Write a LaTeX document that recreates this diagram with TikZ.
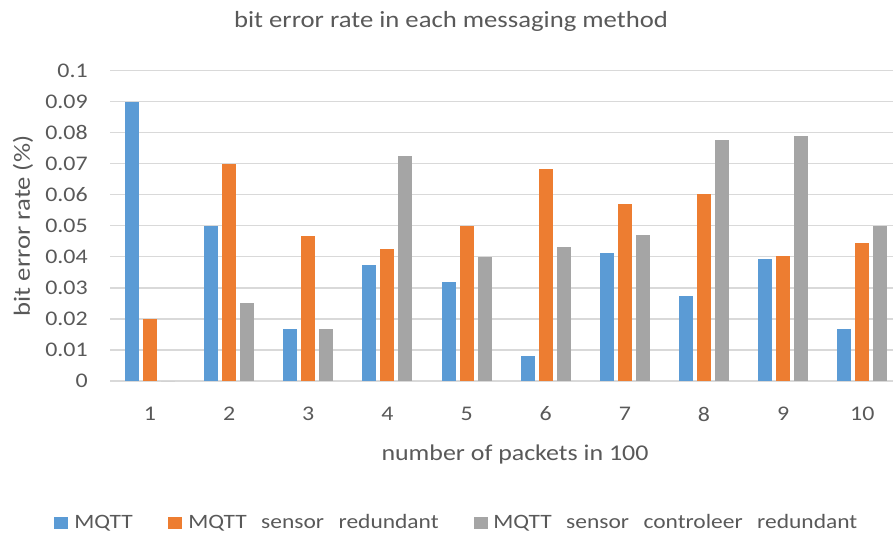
\documentclass[tikz,border=0pt]{standalone}
\usepackage{fontspec}
\setmainfont[FakeStretch=1.15]{Carlito}
\definecolor{serA}{HTML}{5B9BD5}
\definecolor{serB}{HTML}{ED7D31}
\definecolor{serC}{HTML}{A5A5A5}
\definecolor{gridc}{HTML}{D9D9D9}
\definecolor{txtc}{HTML}{595959}
\begin{document}
\begin{tikzpicture}[x=0.75pt,y=-0.75pt,
  lbl/.style={text=txtc,font=\fontsize{15.6}{18}\selectfont,inner sep=0pt},
  ttl/.style={text=txtc,font=\fontsize{17.4}{20}\selectfont,inner sep=0pt},
  keytxt/.style={text=txtc,font=\fontsize{15.3}{18}\selectfont,inner sep=0pt},
  gridline/.style={draw=gridc,line width=1pt},
  keybox/.style={minimum width=10pt,minimum height=9pt,inner sep=0pt}]
\useasboundingbox (0,0) rectangle (893,533);
% horizontal grid and value labels
\foreach \k/\t in {0/0,1/0.01,2/0.02,3/0.03,4/0.04,5/0.05,6/0.06,7/0.07,8/0.08,9/0.09,10/0.1}{
  \pgfmathsetmacro\yy{381-31.05*\k}
  \draw[gridline] (110,\yy) -- (893,\yy);
  \node[lbl,anchor=east] (ytick\k) at (88,\yy) {\t};
}
% bars: category, MQTT, sensor redundant, sensor controleer redundant
\foreach \i/\a/\b/\c in {1/0.09/0.02/0,2/0.05/0.07/0.025,3/0.0167/0.0467/0.0167,
  4/0.0375/0.0424/0.0724,5/0.032/0.05/0.04,6/0.0082/0.0683/0.0431,
  7/0.0412/0.0569/0.0469,8/0.0274/0.0603/0.0776,9/0.0392/0.0402/0.0789,
  10/0.0169/0.0444/0.05}{
  \pgfmathsetmacro\cx{150+(\i-1)*79.15}
  \fill[serA] (\cx-25,381) rectangle (\cx-11,381-3105*\a);
  \fill[serB] (\cx-7,381) rectangle (\cx+7,381-3105*\b);
  \fill[serC] (\cx+11,381) rectangle (\cx+25,381-3105*\c);
  \node[lbl] (xtick\i) at (\cx,414) {\i};
}
% titles
\node[ttl] (title) at (451,21) {bit error rate in each messaging method};
\node[ttl,font=\fontsize{16.9}{20}\selectfont] (xtitle) at (515,454) {number of packets in 100};
\node[ttl,rotate=90] (ytitle) at (23,226) {bit error rate (\%)};
% legend
\node[keybox,fill=serA] (keyA) at (61,523) {};
\node[keytxt,anchor=west] (legA) at (74,523) {MQTT};
\node[keybox,fill=serB] (keyB) at (175,523) {};
\node[keytxt,anchor=west] (legB) at (188,523) {MQTT\hspace{0.71em}sensor\hspace{0.71em}redundant};
\node[keybox,fill=serC] (keyC) at (481,523) {};
\node[keytxt,anchor=west] (legC) at (493,523) {MQTT\hspace{0.71em}sensor\hspace{0.71em}controleer\hspace{0.71em}redundant};
\end{tikzpicture}
\end{document}
